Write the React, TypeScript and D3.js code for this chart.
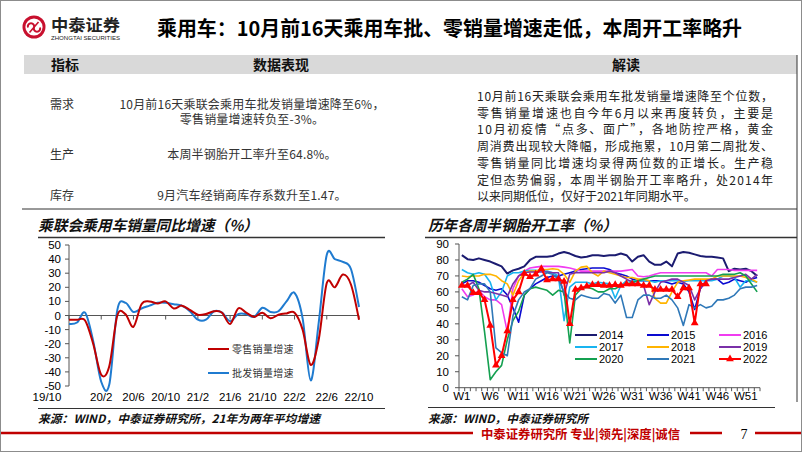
import React from "react";
import * as d3 from "d3";

// ---------- data: left chart (monthly, 2019/10 .. 2022/10) ----------
const monthTickLabels = ["19/10", "20/2", "20/6", "20/10", "21/2", "21/6", "21/10", "22/2", "22/6", "22/10"];
const retailGrowth = [-3, -3, -3.5, -20, -42, -36, 0, 1, -8, 8, 10, 8.5, 10, 5, 7, 4, 0.5, 1, 3, 2, -6, 5, 2, -1, 2, -2, 0.5, 1.5, 2, -10, -35, -17, 23, 20, 29, 22, -3];
const wholesaleGrowth = [-6, -5, 2, -18, -47, -49, 4, 9, 2.5, 5, 7, 9, 9, 8, 7, 3, -3, -3, 3, 2, -4, 1, 1, -1, 5.5, 2.5, 3, 10, 16, -2, -46, -5, 43, 40, 38, 33, 6];
const salesYTicks = [50, 40, 30, 20, 10, 0, -10, -20, -30, -40, -50];
const salesSeriesNames = ["零售销量增速", "批发销量增速"];

// ---------- data: right chart (weekly semi-steel tyre operating rate) ----------
const weekNumbers = Array.from({ length: 53 }, (_, i) => i + 1);
const weekTickLabels = ["W1", "W6", "W11", "W16", "W21", "W26", "W31", "W36", "W41", "W46", "W51"];
const tireYTicks = [0, 10, 20, 30, 40, 50, 60, 70, 80, 90];
const tireYears = ["2014", "2015", "2016", "2017", "2018", "2019", "2020", "2021", "2022"];
const rate2014 = [83, 80.5, 80, 81, 80, 79, 77.5, 76, 71.5, 73.5, 74.5, 76, 80, 82, 82, 82, 82.5, 84, 85, 84, 82.5, 81.5, 82, 83, 83, 82.5, 83, 83, 84, 83, 79, 82, 83, 79, 77, 77, 79, 76, 84, 85, 84.5, 83.5, 82.5, 82, 82, 81.5, 81, 73, 74.5, 74, 74.5, 73, 70];
const rate2015 = [65, 67, 67, 66, 64, 62, 61, 62, 58, 50, 41, 58, 62, 65, 67, 69, 70, 70, 71, 72, 73, 74, 74.5, 75, 75, 75, 74, 72, 71, 70, 68, 67, 67, 67, 67, 67, 66, 65, 66, 65, 60, 49, 62, 67, 68, 68, 65, 66, 68, 67, 66, 68, 69];
const rate2016 = [62, 57, 58, 61, 57, 55, 55, 52, 35, 62, 70, 73, 75, 75.5, 76, 76, 76, 76, 75.5, 75, 74, 73, 73, 73, 73, 73, 73, 73, 73, 73.5, 74, 70, 69.5, 70, 71, 72, 72, 72, 72, 72, 72, 72, 72, 72, 70, 74, 74, 74, 73.5, 73.5, 73.5, 73.5, 73.5];
const rate2017 = [74, 72, 71, 72, 71, 66, 55, 60, 70, 72, 72, 73, 73.5, 73.5, 73, 73, 72, 70, 42, 63, 66, 66, 66, 65, 66, 65.5, 65, 56, 64, 67, 67, 67, 67, 67, 66, 67, 67, 67, 67, 66.5, 67, 67, 67, 67, 67, 68, 70, 70, 69, 63, 67, 67, 66];
const rate2018 = [70, 69.5, 70, 70, 71, 71, 70, 67, 65, 58, 67, 72, 73, 73, 74, 74, 74.5, 74, 71, 66, 73, 75.5, 76, 72, 70, 73, 72, 71, 70, 69, 69, 68, 68, 67, 56, 53, 53, 60, 66, 67, 67.5, 68, 68, 68, 68, 70, 70, 70, 70, 70, 69, 68, 66];
const rate2019 = [64, 64, 66, 61, 60, 60, 59, 58, 57, 65, 70, 72, 72.5, 72.5, 72.5, 72.5, 72, 72, 58, 71, 72, 72, 72, 72, 72, 72, 73, 72, 70, 68, 66, 65, 64, 52, 60, 66, 67, 68, 68, 66, 64, 55, 62, 67, 68, 68, 68, 68, 69, 70, 71, 68, 71];
const rate2020 = [66, 68, 71, 62, 35, 5, 10, 14, 30, 42, 48, 58, 62, 63, 62, 61, 58, 61, 60, 28, 58, 62, 63, 62, 60, 60, 62, 62, 64, 65, 66, 67, 68, 69, 70, 70, 70, 70, 70, 70, 70, 70, 70, 70, 70, 70, 71, 71, 71, 72, 70, 65, 60];
const rate2021 = [57, 55, 64, 65, 65, 60, 25, 22, 20, 45, 55, 60, 62, 68, 70, 72, 71, 68, 60, 56, 55, 58, 57, 56, 56, 59, 58, 53, 58, 44, 44, 55, 58, 58, 56, 56, 58, 55, 50, 39, 52, 50, 52, 50, 51, 55, 55, 56, 58, 62, 63, 63, 64];
const rate2022 = [64, 64, 59.5, 59.5, 55, 39, 14, 20, 35.5, 55, 60, 71.5, 69.5, 71, 74.5, 67.5, 68, 68, 66.5, 40, 61.5, 62.5, 63.5, 64.5, 64.5, 64, 64, 64.5, 64, 65, 65, 65, 64, 64, 61.5, 61.5, 61.5, 61.5, 57, 62.5, 62.5, 40.5, 65, 65, null, null, null, null, null, null, null, null, null];

// ---------- text ----------
const pageTitle = "乘用车：10月前16天乘用车批、零销量增速走低，本周开工率略升";
const tableHeaders = ["指标", "数据表现", "解读"];
const rowLabels = ["需求", "生产", "库存"];
const rowTexts = [
  ["10月前16天乘联会乘用车批发销量增速降至6%，", "零售销量增速转负至-3%。"],
  ["本周半钢胎开工率升至64.8%。"],
  ["9月汽车经销商库存系数升至1.47。"],
];
const commentLines = [
  "10月前16天乘联会乘用车批发销量增速降至个位数，",
  "零售销量增速也自今年6月以来再度转负，主要是",
  "10月初疫情“点多、面广”，各地防控严格，黄金",
  "周消费出现较大降幅，形成拖累，10月第二周批发、",
  "零售销量同比增速均录得两位数的正增长。生产稳",
  "定但态势偏弱，本周半钢胎开工率略升，处2014年",
  "以来同期低位，仅好于2021年同期水平。",
];

const CJK = "'Noto Sans CJK SC', 'Noto Sans', sans-serif";
const LAT = "Arial, 'Liberation Sans', sans-serif";
const RED = "#c00000";

export default function App() {
  const tireSeries = [rate2014, rate2015, rate2016, rate2017, rate2018, rate2019, rate2020, rate2021, rate2022];
  const tireColors = ["#1b1b70", "#0a0ad0", "#f03cf0", "#19b4f0", "#ffb400", "#7a30a8", "#14a050", "#2f78b8", "#ff0000"];

  // left chart scales
  const xL = d3.scaleLinear().domain([0, retailGrowth.length - 1]).range([69, 359]);
  const yL = d3.scaleLinear().domain([-50, 50]).range([386, 245]);
  const smooth = d3
    .line<number>()
    .x((_, i) => xL(i))
    .y((d) => yL(d))
    .curve(d3.curveCardinal.tension(0));

  // right chart scales
  const xR = d3.scaleBand<number>().domain(weekNumbers).range([459, 760]);
  const cx = (w: number) => (xR(w) as number) + xR.bandwidth() / 2;
  const yR = d3.scaleLinear().domain([0, 90]).range([387.7, 244]);
  const weekLine = d3
    .line<number | null>()
    .defined((d) => d !== null)
    .x((_, i) => cx(weekNumbers[i]))
    .y((d) => yR(d as number));
  const tri = d3.symbol().type(d3.symbolTriangle).size(26)() as string;

  const legendCols = [575, 647, 719];
  const legendRows = [335, 347, 359];

  return (
    <svg width={802} height={452} style={{ position: "absolute", left: 0, top: 0, background: "#fff" }}>
      <rect x={0.5} y={0.5} width={801} height={451} fill="#fff" stroke="#8c8c8c" />

      {/* logo */}
      <g>
        <circle cx={34} cy={27} r={11.5} fill="#c8102e" />
        <circle cx={34} cy={27} r={8.6} fill="#fff" />
        <path d="M28,27.5 a3.2,3.2 0 1,1 6,0 a3.2,3.2 0 1,0 6,0" fill="none" stroke="#c8102e" strokeWidth={2} />
        <path d="M29.5,32.5 L38.5,22" stroke="#c8102e" strokeWidth={1.6} />
        <text x={51} y={30.5} fontFamily={CJK} fontWeight={700} fontSize={16} fill="#222" textLength={69} lengthAdjust="spacingAndGlyphs">中泰证券</text>
        <text x={51} y={40} fontFamily={LAT} fontSize={5.2} fill="#222" textLength={69} lengthAdjust="spacingAndGlyphs">ZHONGTAI SECURITIES</text>
      </g>

      {/* title */}
      <text x={157} y={36} fontFamily={CJK} fontWeight={700} fontSize={20} fill="#000" textLength={585} lengthAdjust="spacingAndGlyphs">
        {pageTitle}
      </text>

      {/* table header */}
      <rect x={24} y={55} width={773} height={19} fill="#d9d9d9" />
      <text x={65} y={69.5} textAnchor="middle" fontFamily={CJK} fontWeight={700} fontSize={14} fill="#111">{tableHeaders[0]}</text>
      <text x={281} y={69.5} textAnchor="middle" fontFamily={CJK} fontWeight={700} fontSize={14} fill="#111">{tableHeaders[1]}</text>
      <text x={626} y={69.5} textAnchor="middle" fontFamily={CJK} fontWeight={700} fontSize={14} fill="#111">{tableHeaders[2]}</text>

      {/* table rows */}
      {rowLabels.map((lab, i) => {
        const ys = [108.5, 159, 200];
        return (
          <g key={lab}>
            <text x={50} y={ys[i]} fontFamily={CJK} fontSize={12} fill="#333">{lab}</text>
            {rowTexts[i].map((t, j) => (
              <text key={j} x={252} y={ys[i] + j * 15.5} textAnchor="middle" fontFamily={CJK} fontSize={12} fill="#333" letterSpacing={0.2}>{t}</text>
            ))}
          </g>
        );
      })}

      {/* comment */}
      {commentLines.map((t, i) => (
        <text
          key={i}
          x={477}
          y={101 + i * 16.7}
          fontFamily={CJK}
          fontSize={12}
          fill="#222"
          {...(i < commentLines.length - 1 ? { textLength: 296, lengthAdjust: "spacing" } : {})}
        >
          {t}
        </text>
      ))}

      {/* frame lines */}
      <line x1={22} x2={797} y1={209} y2={209} stroke="#333" strokeWidth={1} />
      <line x1={797} x2={797} y1={55} y2={402} stroke="#333" strokeWidth={1} />

      {/* ---------- left chart ---------- */}
      <text x={38} y={231} fontFamily={CJK} fontWeight={700} fontStyle="italic" fontSize={15} fill="#111" textLength={220} lengthAdjust="spacingAndGlyphs">
        乘联会乘用车销量同比增速（%）
      </text>
      <line x1={38} x2={385} y1={237.5} y2={237.5} stroke="#333" strokeWidth={1.5} />

      <line x1={69} x2={69} y1={yL(50)} y2={yL(-50)} stroke="#555" />
      {salesYTicks.map((t) => (
        <g key={t}>
          <line x1={65} x2={69} y1={yL(t)} y2={yL(t)} stroke="#555" />
          <text x={61} y={yL(t) + 4} textAnchor="end" fontFamily={LAT} fontSize={11.5} fill="#000">{t}</text>
        </g>
      ))}
      <line x1={69} x2={xL(36)} y1={yL(0)} y2={yL(0)} stroke="#555" />
      {monthTickLabels.map((lab, i) => (
        <g key={lab}>
          <line x1={xL(i * 4)} x2={xL(i * 4)} y1={yL(0)} y2={yL(0) + 4} stroke="#555" />
          <text x={i === 0 ? xL(0) - 22 : xL(i * 4)} y={401} textAnchor="middle" fontFamily={LAT} fontSize={11.5} fill="#000">{lab}</text>
        </g>
      ))}
      <path d={smooth(wholesaleGrowth) as string} fill="none" stroke="#1f7bd0" strokeWidth={2} />
      <path d={smooth(retailGrowth) as string} fill="none" stroke="#c00000" strokeWidth={2} />

      <line x1={208} x2={229} y1={349} y2={349} stroke="#c00000" strokeWidth={2} />
      <text x={232} y={352.5} fontFamily={CJK} fontSize={10} fill="#333" letterSpacing={0.3}>{salesSeriesNames[0]}</text>
      <line x1={208} x2={229} y1={373} y2={373} stroke="#1f7bd0" strokeWidth={2} />
      <text x={232} y={376.5} fontFamily={CJK} fontSize={10} fill="#333" letterSpacing={0.3}>{salesSeriesNames[1]}</text>

      <line x1={38} x2={385} y1={408.5} y2={408.5} stroke="#333" strokeWidth={1} />
      <text x={38} y={422.5} fontFamily={CJK} fontWeight={700} fontStyle="italic" fontSize={11.5} fill="#111" textLength={282} lengthAdjust="spacingAndGlyphs">
        来源：WIND，中泰证券研究所，21年为两年平均增速
      </text>

      {/* ---------- right chart ---------- */}
      <text x={428} y={231} fontFamily={CJK} fontWeight={700} fontStyle="italic" fontSize={15} fill="#111" textLength={189} lengthAdjust="spacingAndGlyphs">
        历年各周半钢胎开工率（%）
      </text>
      <line x1={425} x2={797} y1={237.5} y2={237.5} stroke="#333" strokeWidth={1.5} />

      <line x1={459} x2={459} y1={yR(90)} y2={yR(0)} stroke="#555" />
      {tireYTicks.map((t) => (
        <g key={t}>
          <line x1={455} x2={459} y1={yR(t)} y2={yR(t)} stroke="#555" />
          <text x={449} y={yR(t) + 4} textAnchor="end" fontFamily={LAT} fontSize={11.5} fill="#000">{t}</text>
        </g>
      ))}
      <line x1={459} x2={760} y1={yR(0)} y2={yR(0)} stroke="#555" />
      {weekNumbers.concat([54]).map((w) => {
        const x = w <= 53 ? (xR(w) as number) : 760;
        return <line key={w} x1={x} x2={x} y1={yR(0)} y2={yR(0) + 3.5} stroke="#555" />;
      })}
      {weekTickLabels.map((lab, i) => (
        <text key={lab} x={cx(1 + i * 5)} y={400} textAnchor="middle" fontFamily={LAT} fontSize={11.5} fill="#000">{lab}</text>
      ))}

      {tireSeries.map((s, k) => (
        <path key={k} d={weekLine(s) as string} fill="none" stroke={tireColors[k]} strokeWidth={k === 8 ? 2 : k === 0 ? 2 : 1.6} strokeLinejoin="round" />
      ))}
      {rate2022.map((v, i) =>
        v === null ? null : (
          <path key={i} d={tri} transform={`translate(${cx(weekNumbers[i])},${yR(v)})`} fill="#ff0000" />
        )
      )}

      {tireYears.map((yr, k) => {
        const lx = legendCols[k % 3];
        const ly = legendRows[Math.floor(k / 3)];
        return (
          <g key={yr}>
            <line x1={lx} x2={lx + 22} y1={ly} y2={ly} stroke={tireColors[k]} strokeWidth={2} />
            {k === 8 && <path d={tri} transform={`translate(${lx + 11},${ly})`} fill="#ff0000" />}
            <text x={lx + 24} y={ly + 4} fontFamily={LAT} fontSize={11} fill="#000">{yr}</text>
          </g>
        );
      })}

      <line x1={428} x2={775} y1={407.5} y2={407.5} stroke="#333" strokeWidth={1} />
      <text x={428} y={422.5} fontFamily={CJK} fontWeight={700} fontStyle="italic" fontSize={11.5} fill="#111" textLength={160} lengthAdjust="spacingAndGlyphs">
        来源：WIND，中泰证券研究所
      </text>

      {/* footer */}
      <line x1={1} x2={473} y1={433} y2={433} stroke={RED} strokeWidth={2.5} />
      <text x={481} y={438.5} fontFamily={CJK} fontWeight={700} fontSize={12.5} fill={RED} textLength={199} lengthAdjust="spacingAndGlyphs">
        中泰证券研究所 专业|领先|深度|诚信
      </text>
      <line x1={690} x2={722} y1={433} y2={433} stroke={RED} strokeWidth={2.5} />
      <text x={744} y={438.5} textAnchor="middle" fontFamily="'Liberation Serif', 'DejaVu Serif', serif" fontSize={14} fill="#000">7</text>
      <line x1={755} x2={801} y1={433} y2={433} stroke={RED} strokeWidth={2.5} />
    </svg>
  );
}
